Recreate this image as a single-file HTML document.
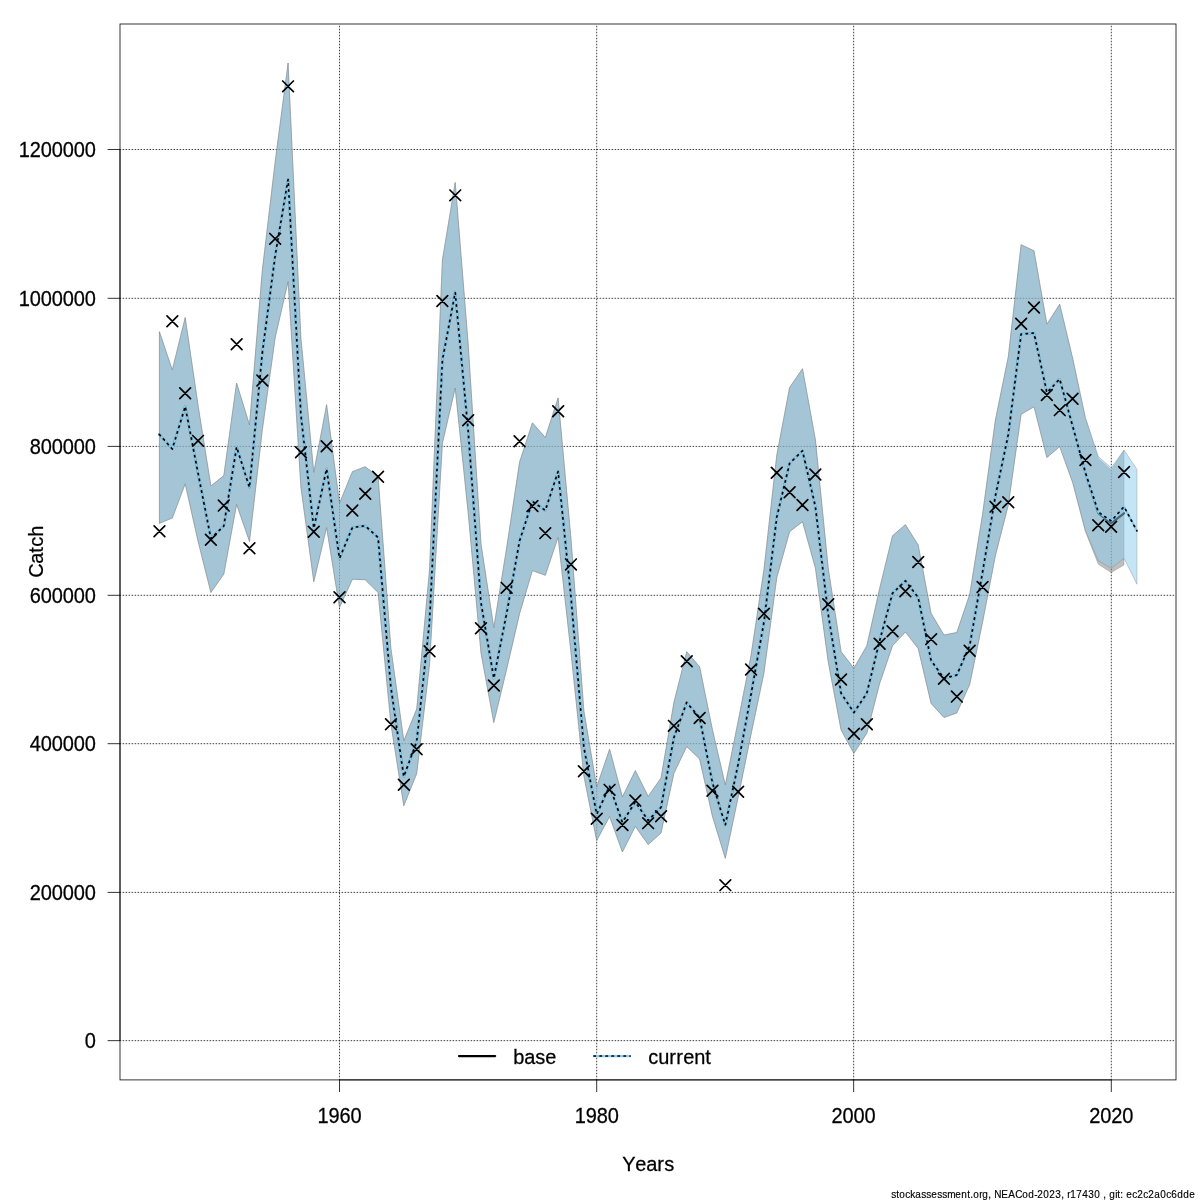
<!DOCTYPE html>
<html><head><meta charset="utf-8"><title>Catch</title>
<style>html,body{margin:0;padding:0;background:#fff;width:1200px;height:1200px;overflow:hidden;font-family:"Liberation Sans",sans-serif}</style></head>
<body>
<svg width="1200" height="1200" viewBox="0 0 1200 1200" style="position:absolute;left:0;top:0;will-change:transform">
<rect width="1200" height="1200" fill="#fff"/>
<rect x="120.0" y="24.0" width="1056.0" height="1055.9" fill="none" stroke="#000" stroke-width="0.85" stroke-opacity="0.93"/>
<g stroke="#000" stroke-width="0.8" fill="none" stroke-linecap="butt">
<path d="M120.0,1040.65V149.5"/>
<path d="M120.0,1040.65H107.6"/>
<path d="M120.0,892.4H107.6"/>
<path d="M120.0,743.7H107.6"/>
<path d="M120.0,595.3H107.6"/>
<path d="M120.0,446.4H107.6"/>
<path d="M120.0,298.3H107.6"/>
<path d="M120.0,149.5H107.6"/>
<path d="M339.5,1079.9H1111.3"/>
<path d="M339.5,1079.9V1092"/>
<path d="M596.7,1079.9V1092"/>
<path d="M853.65,1079.9V1092"/>
<path d="M1111.3,1079.9V1092"/>
</g>
<g stroke="#000" stroke-width="0.75" fill="none" stroke-dasharray="0.75 2.25" stroke-linecap="round">
<path d="M120.0,1040.65H1176.0"/>
<path d="M120.0,892.4H1176.0"/>
<path d="M120.0,743.7H1176.0"/>
<path d="M120.0,595.3H1176.0"/>
<path d="M120.0,446.4H1176.0"/>
<path d="M120.0,298.3H1176.0"/>
<path d="M120.0,149.5H1176.0"/>
<path d="M339.5,1079.9V24.0"/>
<path d="M596.7,1079.9V24.0"/>
<path d="M853.65,1079.9V24.0"/>
<path d="M1111.3,1079.9V24.0"/>
</g>
<polygon points="159.4,331.7 172.3,370.0 185.2,317.5 198.0,405.0 210.9,486.0 223.8,475.6 236.6,383.0 249.5,425.0 262.3,270.5 275.2,161.5 288.1,63.0 300.9,338.0 313.8,472.5 326.6,404.7 339.5,503.3 352.4,471.7 365.2,466.7 378.1,476.7 390.9,648.3 403.8,740.8 416.7,709.0 429.5,570.0 442.4,260.0 455.2,182.5 468.1,343.0 481.0,544.0 493.8,627.7 506.7,547.5 519.6,462.0 532.4,422.8 545.3,437.6 558.1,397.9 571.0,539.0 583.9,711.0 596.7,787.0 609.6,749.2 622.4,797.0 635.3,770.6 648.2,796.4 661.0,778.0 673.9,702.5 686.7,651.7 699.6,666.7 712.5,730.0 725.3,785.0 738.2,721.0 751.1,655.0 763.9,570.0 776.8,455.0 789.6,387.5 802.5,368.7 815.4,439.7 828.2,568.0 841.1,651.7 853.9,668.3 866.8,645.8 879.7,588.3 892.5,535.8 905.4,524.7 918.2,545.0 931.1,613.4 944.0,635.0 956.8,632.5 969.7,594.5 982.6,514.0 995.4,420.0 1008.3,356.7 1021.1,244.7 1034.0,250.8 1046.9,324.2 1059.7,304.2 1072.6,358.0 1085.4,418.0 1098.3,458.5 1111.2,470.0 1124.0,450.5 1124.0,565.0 1111.2,572.5 1098.3,564.2 1085.4,531.5 1072.6,482.3 1059.7,446.6 1046.9,457.5 1034.0,406.8 1021.1,414.3 1008.3,505.0 995.4,555.5 982.6,622.0 969.7,684.5 956.8,713.0 944.0,717.5 931.1,703.4 918.2,648.4 905.4,632.0 892.5,645.8 879.7,683.3 866.8,733.3 853.9,753.3 841.1,730.0 828.2,661.7 815.4,568.0 802.5,521.7 789.6,531.7 776.8,577.5 763.9,673.3 751.1,734.0 738.2,797.0 725.3,858.3 712.5,816.5 699.6,759.0 686.7,746.6 673.9,773.3 661.0,833.0 648.2,844.6 635.3,826.4 622.4,852.0 609.6,816.5 596.7,840.6 583.9,776.0 571.0,652.5 558.1,537.2 545.3,575.3 532.4,570.6 519.6,613.5 506.7,669.0 493.8,722.5 481.0,653.0 468.1,512.0 455.2,388.0 442.4,443.3 429.5,665.0 416.7,773.6 403.8,805.7 390.9,724.0 378.1,592.5 365.2,579.7 352.4,579.2 339.5,607.5 326.6,527.5 313.8,581.7 300.9,487.0 288.1,281.5 275.2,337.5 262.3,430.0 249.5,541.5 236.6,504.4 223.8,574.1 210.9,592.5 198.0,541.0 185.2,483.8 172.3,518.0 159.4,523.3" fill="#808080" fill-opacity="0.5" stroke="#808080" stroke-opacity="0.5" stroke-width="0.75" stroke-linejoin="round"/>
<polyline points="159.4,434.5 172.3,449.0 185.2,406.4 198.0,473.0 210.9,538.5 223.8,526.0 236.6,447.0 249.5,487.5 262.3,353.0 275.2,255.5 288.1,179.4 300.9,415.0 313.8,528.3 326.6,468.9 339.5,558.3 352.4,527.5 365.2,525.8 378.1,537.5 390.9,687.5 403.8,776.6 416.7,741.5 429.5,622.0 442.4,360.0 455.2,292.5 468.1,430.0 481.0,603.0 493.8,678.3 506.7,613.0 519.6,540.8 532.4,501.4 545.3,510.4 558.1,471.5 571.0,597.0 583.9,747.5 596.7,814.2 609.6,786.0 622.4,822.3 635.3,802.0 648.2,820.4 661.0,807.3 673.9,737.5 686.7,702.5 699.6,717.6 712.5,783.0 725.3,825.0 738.2,764.0 751.1,694.0 763.9,622.5 776.8,517.0 789.6,463.3 802.5,450.8 815.4,506.7 828.2,614.5 841.1,693.3 853.9,712.5 866.8,693.3 879.7,640.5 892.5,593.3 905.4,580.8 918.2,597.5 931.1,660.5 944.0,678.4 956.8,675.0 969.7,645.5 982.6,572.0 995.4,496.0 1008.3,434.5 1021.1,334.2 1034.0,333.0 1046.9,392.6 1059.7,379.1 1072.6,426.0 1085.4,472.8 1098.3,513.0 1111.2,523.2 1124.0,513.3" fill="none" stroke="#000" stroke-width="2.25" stroke-linejoin="round" stroke-linecap="round"/>
<polygon points="159.4,331.7 172.3,370.0 185.2,317.5 198.0,405.0 210.9,486.0 223.8,475.6 236.6,383.0 249.5,425.0 262.3,270.5 275.2,161.5 288.1,63.0 300.9,338.0 313.8,472.5 326.6,404.7 339.5,503.3 352.4,471.7 365.2,466.7 378.1,476.7 390.9,648.3 403.8,740.8 416.7,709.0 429.5,570.0 442.4,260.0 455.2,182.5 468.1,343.0 481.0,544.0 493.8,627.7 506.7,547.5 519.6,462.0 532.4,422.8 545.3,437.6 558.1,397.9 571.0,539.0 583.9,711.0 596.7,787.0 609.6,749.2 622.4,797.0 635.3,770.6 648.2,796.4 661.0,778.0 673.9,702.5 686.7,651.7 699.6,666.7 712.5,730.0 725.3,785.0 738.2,721.0 751.1,655.0 763.9,570.0 776.8,455.0 789.6,387.5 802.5,368.7 815.4,439.7 828.2,568.0 841.1,651.7 853.9,668.3 866.8,645.8 879.7,588.3 892.5,535.8 905.4,524.7 918.2,545.0 931.1,613.4 944.0,635.0 956.8,632.5 969.7,594.5 982.6,514.0 995.4,420.0 1008.3,356.7 1021.1,244.7 1034.0,250.8 1046.9,324.2 1059.7,304.2 1072.6,358.0 1085.4,417.7 1098.3,456.5 1111.2,467.8 1124.0,450.0 1136.9,469.3 1136.9,584.2 1124.0,558.3 1111.2,568.3 1098.3,560.8 1085.4,530.5 1072.6,482.3 1059.7,446.6 1046.9,457.5 1034.0,406.8 1021.1,414.3 1008.3,505.0 995.4,555.5 982.6,622.0 969.7,684.5 956.8,713.0 944.0,717.5 931.1,703.4 918.2,648.4 905.4,632.0 892.5,645.8 879.7,683.3 866.8,733.3 853.9,753.3 841.1,730.0 828.2,661.7 815.4,568.0 802.5,521.7 789.6,531.7 776.8,577.5 763.9,673.3 751.1,734.0 738.2,797.0 725.3,858.3 712.5,816.5 699.6,759.0 686.7,746.6 673.9,773.3 661.0,833.0 648.2,844.6 635.3,826.4 622.4,852.0 609.6,816.5 596.7,840.6 583.9,776.0 571.0,652.5 558.1,537.2 545.3,575.3 532.4,570.6 519.6,613.5 506.7,669.0 493.8,722.5 481.0,653.0 468.1,512.0 455.2,388.0 442.4,443.3 429.5,665.0 416.7,773.6 403.8,805.7 390.9,724.0 378.1,592.5 365.2,579.7 352.4,579.2 339.5,607.5 326.6,527.5 313.8,581.7 300.9,487.0 288.1,281.5 275.2,337.5 262.3,430.0 249.5,541.5 236.6,504.4 223.8,574.1 210.9,592.5 198.0,541.0 185.2,483.8 172.3,518.0 159.4,523.3" fill="#88CCEE" fill-opacity="0.5" stroke="#808080" stroke-opacity="0.5" stroke-width="0.75" stroke-linejoin="round"/>
<polyline points="159.4,434.5 172.3,449.0 185.2,406.4 198.0,473.0 210.9,538.5 223.8,526.0 236.6,447.0 249.5,487.5 262.3,353.0 275.2,255.5 288.1,179.4 300.9,415.0 313.8,528.3 326.6,468.9 339.5,558.3 352.4,527.5 365.2,525.8 378.1,537.5 390.9,687.5 403.8,776.6 416.7,741.5 429.5,622.0 442.4,360.0 455.2,292.5 468.1,430.0 481.0,603.0 493.8,678.3 506.7,613.0 519.6,540.8 532.4,501.4 545.3,510.4 558.1,471.5 571.0,597.0 583.9,747.5 596.7,814.2 609.6,786.0 622.4,822.3 635.3,802.0 648.2,820.4 661.0,807.3 673.9,737.5 686.7,702.5 699.6,717.6 712.5,783.0 725.3,825.0 738.2,764.0 751.1,694.0 763.9,622.5 776.8,517.0 789.6,463.3 802.5,450.8 815.4,506.7 828.2,614.5 841.1,693.3 853.9,712.5 866.8,693.3 879.7,640.5 892.5,593.3 905.4,580.8 918.2,597.5 931.1,660.5 944.0,678.4 956.8,675.0 969.7,645.5 982.6,572.0 995.4,496.0 1008.3,434.5 1021.1,334.2 1034.0,333.0 1046.9,392.6 1059.7,379.1 1072.6,426.0 1085.4,472.5 1098.3,512.0 1111.2,521.0 1124.0,506.7 1136.9,530.8" fill="none" stroke="#88CCEE" stroke-width="2.25" stroke-linejoin="round" stroke-linecap="round"/>
<polyline points="159.4,434.5 172.3,449.0 185.2,406.4 198.0,473.0 210.9,538.5 223.8,526.0 236.6,447.0 249.5,487.5 262.3,353.0 275.2,255.5 288.1,179.4 300.9,415.0 313.8,528.3 326.6,468.9 339.5,558.3 352.4,527.5 365.2,525.8 378.1,537.5 390.9,687.5 403.8,776.6 416.7,741.5 429.5,622.0 442.4,360.0 455.2,292.5 468.1,430.0 481.0,603.0 493.8,678.3 506.7,613.0 519.6,540.8 532.4,501.4 545.3,510.4 558.1,471.5 571.0,597.0 583.9,747.5 596.7,814.2 609.6,786.0 622.4,822.3 635.3,802.0 648.2,820.4 661.0,807.3 673.9,737.5 686.7,702.5 699.6,717.6 712.5,783.0 725.3,825.0 738.2,764.0 751.1,694.0 763.9,622.5 776.8,517.0 789.6,463.3 802.5,450.8 815.4,506.7 828.2,614.5 841.1,693.3 853.9,712.5 866.8,693.3 879.7,640.5 892.5,593.3 905.4,580.8 918.2,597.5 931.1,660.5 944.0,678.4 956.8,675.0 969.7,645.5 982.6,572.0 995.4,496.0 1008.3,434.5 1021.1,334.2 1034.0,333.0 1046.9,392.6 1059.7,379.1 1072.6,426.0 1085.4,472.5 1098.3,512.0 1111.2,521.0 1124.0,506.7 1136.9,530.8" fill="none" stroke="#000" stroke-width="1.7" stroke-dasharray="1.4 4.6" stroke-linejoin="round" stroke-linecap="round"/>
<path d="M154.1,525.9L164.8,536.6M154.1,536.6L164.8,525.9M167.0,315.8L177.7,326.6M167.0,326.6L177.7,315.8M179.8,387.9L190.5,398.7M179.8,398.7L190.5,387.9M192.7,435.5L203.4,446.2M192.7,446.2L203.4,435.5M205.5,534.4L216.2,545.1M205.5,545.1L216.2,534.4M218.4,500.2L229.1,511.0M218.4,511.0L229.1,500.2M231.3,338.8L242.0,349.6M231.3,349.6L242.0,338.8M244.1,542.9L254.8,553.6M244.1,553.6L254.8,542.9M257.0,375.1L267.7,385.9M257.0,385.9L267.7,375.1M269.8,233.5L280.5,244.2M269.8,244.2L280.5,233.5M282.7,81.0L293.4,91.6M282.7,91.6L293.4,81.0M295.6,446.8L306.3,457.6M295.6,457.6L306.3,446.8M308.4,526.4L319.1,537.1M308.4,537.1L319.1,526.4M321.3,440.9L332.0,451.7M321.3,451.7L332.0,440.9M334.1,591.9L344.9,602.6M334.1,602.6L344.9,591.9M347.0,505.1L357.7,515.9M347.0,515.9L357.7,505.1M359.9,488.4L370.6,499.2M359.9,499.2L370.6,488.4M372.7,471.4L383.4,482.2M372.7,482.2L383.4,471.4M385.6,718.9L396.3,729.6M385.6,729.6L396.3,718.9M398.5,779.4L409.2,790.1M398.5,790.1L409.2,779.4M411.3,743.9L422.0,754.6M411.3,754.6L422.0,743.9M424.2,645.9L434.9,656.6M424.2,656.6L434.9,645.9M437.0,295.6L447.7,306.4M437.0,306.4L447.7,295.6M449.9,190.0L460.6,200.7M449.9,200.7L460.6,190.0M462.8,414.8L473.5,425.6M462.8,425.6L473.5,414.8M475.6,622.9L486.3,633.6M475.6,633.6L486.3,622.9M488.5,680.1L499.2,690.9M488.5,690.9L499.2,680.1M501.3,582.5L512.0,593.2M501.3,593.2L512.0,582.5M514.2,435.8L524.9,446.6M514.2,446.6L524.9,435.8M527.1,500.6L537.8,511.4M527.1,511.4L537.8,500.6M539.9,527.8L550.6,538.5M539.9,538.5L550.6,527.8M552.8,405.9L563.5,416.7M552.8,416.7L563.5,405.9M565.6,559.0L576.3,569.8M565.6,569.8L576.3,559.0M578.5,765.9L589.2,776.6M578.5,776.6L589.2,765.9M591.4,813.4L602.1,824.1M591.4,824.1L602.1,813.4M604.2,784.5L614.9,795.2M604.2,795.2L614.9,784.5M617.1,819.6L627.8,830.4M617.1,830.4L627.8,819.6M630.0,795.2L640.7,806.0M630.0,806.0L640.7,795.2M642.8,817.8L653.5,828.5M642.8,828.5L653.5,817.8M655.7,810.9L666.4,821.6M655.7,821.6L666.4,810.9M668.5,720.5L679.2,731.2M668.5,731.2L679.2,720.5M681.4,655.9L692.1,666.6M681.4,666.6L692.1,655.9M694.3,712.6L705.0,723.4M694.3,723.4L705.0,712.6M707.1,785.4L717.8,796.1M707.1,796.1L717.8,785.4M720.0,879.8L730.7,890.5M720.0,890.5L730.7,879.8M732.8,786.4L743.5,797.1M732.8,797.1L743.5,786.4M745.7,664.1L756.4,674.9M745.7,674.9L756.4,664.1M758.6,608.4L769.3,619.1M758.6,619.1L769.3,608.4M771.4,467.4L782.1,478.2M771.4,478.2L782.1,467.4M784.3,486.8L795.0,497.6M784.3,497.6L795.0,486.8M797.1,499.6L807.8,510.4M797.1,510.4L807.8,499.6M810.0,469.1L820.7,479.9M810.0,479.9L820.7,469.1M822.9,598.9L833.6,609.6M822.9,609.6L833.6,598.9M835.7,674.1L846.4,684.9M835.7,684.9L846.4,674.1M848.6,728.4L859.3,739.1M848.6,739.1L859.3,728.4M861.5,718.9L872.2,729.6M861.5,729.6L872.2,718.9M874.3,638.4L885.0,649.1M874.3,649.1L885.0,638.4M887.2,625.9L897.9,636.6M887.2,636.6L897.9,625.9M900.0,585.9L910.7,596.6M900.0,596.6L910.7,585.9M912.9,556.6L923.6,567.4M912.9,567.4L923.6,556.6M925.8,633.8L936.5,644.5M925.8,644.5L936.5,633.8M938.6,673.4L949.3,684.1M938.6,684.1L949.3,673.4M951.5,691.2L962.2,702.0M951.5,702.0L962.2,691.2M964.3,645.4L975.0,656.1M964.3,656.1L975.0,645.4M977.2,581.6L987.9,592.4M977.2,592.4L987.9,581.6M990.1,501.3L1000.8,512.0M990.1,512.0L1000.8,501.3M1002.9,496.9L1013.6,507.7M1002.9,507.7L1013.6,496.9M1015.8,318.3L1026.5,329.1M1015.8,329.1L1026.5,318.3M1028.6,302.1L1039.3,312.9M1028.6,312.9L1039.3,302.1M1041.5,389.6L1052.2,400.4M1041.5,400.4L1052.2,389.6M1054.4,404.8L1065.1,415.5M1054.4,415.5L1065.1,404.8M1067.2,393.4L1077.9,404.2M1067.2,404.2L1077.9,393.4M1080.1,454.6L1090.8,465.4M1080.1,465.4L1090.8,454.6M1092.9,519.9L1103.6,530.6M1092.9,530.6L1103.6,519.9M1105.8,521.4L1116.5,532.1M1105.8,532.1L1116.5,521.4M1118.7,466.6L1129.4,477.4M1118.7,477.4L1129.4,466.6" stroke="#000" stroke-width="1.65" fill="none" stroke-linecap="round"/>
<path d="M459,1056H495.1" stroke="#000" stroke-width="2.25" stroke-linecap="round"/>
<path d="M594,1056H630.1" stroke="#88CCEE" stroke-width="2.25" stroke-linecap="round"/>
<path d="M594,1056H630.1" stroke="#000" stroke-width="1.7" stroke-dasharray="1.4 4.6" stroke-linecap="round"/>
<g font-family="Liberation Sans, sans-serif" fill="#000" stroke="#000" stroke-width="0.25">
<text transform="translate(95.8,1047.95) scale(1,1.07)" x="-11" y="0" font-size="20">0</text>
<text transform="translate(95.8,899.7) scale(1,1.07)" x="-66 -55 -44 -33 -22 -11" y="0" font-size="20">200000</text>
<text transform="translate(95.8,751.0) scale(1,1.07)" x="-66 -55 -44 -33 -22 -11" y="0" font-size="20">400000</text>
<text transform="translate(95.8,602.6) scale(1,1.07)" x="-66 -55 -44 -33 -22 -11" y="0" font-size="20">600000</text>
<text transform="translate(95.8,453.7) scale(1,1.07)" x="-66 -55 -44 -33 -22 -11" y="0" font-size="20">800000</text>
<text transform="translate(95.8,305.6) scale(1,1.07)" x="-77 -66 -55 -44 -33 -22 -11" y="0" font-size="20">1000000</text>
<text transform="translate(95.8,156.8) scale(1,1.07)" x="-77 -66 -55 -44 -33 -22 -11" y="0" font-size="20">1200000</text>
<text transform="translate(339.5,1122.7) scale(1,1.07)" x="-22 -11 0 11" y="0" font-size="20">1960</text>
<text transform="translate(596.7,1122.7) scale(1,1.07)" x="-22 -11 0 11" y="0" font-size="20">1980</text>
<text transform="translate(853.6,1122.7) scale(1,1.07)" x="-22 -11 0 11" y="0" font-size="20">2000</text>
<text transform="translate(1111.3,1122.7) scale(1,1.07)" x="-22 -11 0 11" y="0" font-size="20">2020</text>
<text transform="translate(648.2,1170.9) scale(1,1.045)" x="-26 -13 -2 9 16" y="0" font-size="20">Years</text>
<text transform="translate(43.2,551.8) rotate(-90) scale(1,1.045)" x="-26 -12 -1 5 15" y="0" font-size="20">Catch</text>
<text transform="translate(513.3,1063.9) scale(1,1.045)" x="0 11 22 32" y="0" font-size="20">base</text>
<text transform="translate(648.3,1063.9) scale(1,1.045)" x="0 10 21 28 35 46 57" y="0" font-size="20">current</text>
</g>
<g font-family="Liberation Sans, sans-serif" fill="#000" stroke="#000" stroke-width="0.15">
<text transform="translate(1195.3,1197.6) scale(1,1.08)" x="-304 -299 -296 -290 -285 -280 -274 -269 -264 -258 -253 -248 -240 -234 -228 -225 -222 -216 -213 -207 -204 -201 -194 -187 -180 -173 -167 -161 -158 -152 -146 -140 -134 -131 -128 -125 -119 -113 -107 -101 -95 -92 -89 -86 -80 -78 -75 -72 -69 -63 -58 -52 -47 -41 -35 -29 -24 -18 -12 -6" y="0" font-size="10">stockassessment.org, NEACod-2023, r17430 , git: ec2c2a0c6dde</text>
</g>
</svg>
</body></html>
